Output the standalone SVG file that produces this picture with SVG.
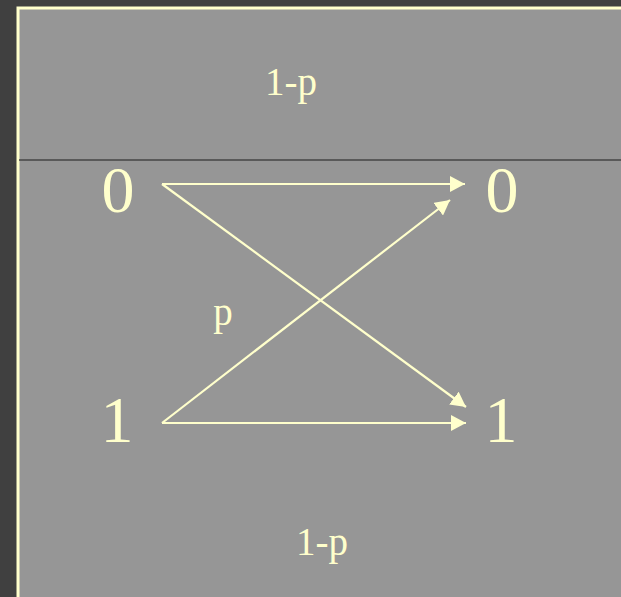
<svg xmlns="http://www.w3.org/2000/svg" width="621" height="597" viewBox="0 0 621 597">
<style>
.big{font-family:"Liberation Serif",serif;font-size:66px;fill:#FFFFCC;text-anchor:middle}
.lbl{font-family:"Liberation Serif",serif;font-size:39px;fill:#FFFFCC;text-anchor:middle}
.edge{stroke:#FFFFCC;stroke-width:2.2;fill:none}
</style>
<defs>
<marker id="ah" markerWidth="16" markerHeight="16" refX="15" refY="8" orient="auto" markerUnits="userSpaceOnUse">
<path d="M0,0 L15,8 L0,16 Z" fill="#FFFFCC"/>
</marker>
</defs>
<rect x="0" y="0" width="621" height="597" fill="#404040"/>
<rect x="17" y="7" width="604" height="590" fill="#969696"/>
<path d="M18,597 V8 H621" stroke="#FFFFCC" stroke-width="3" fill="none"/>
<line x1="19" y1="160" x2="621" y2="160" stroke="#444444" stroke-width="1.5"/>
<g id="n0l"><text class="big" x="118" y="212">0</text></g>
<g id="n0r"><text class="big" x="502" y="212">0</text></g>
<g id="n1l"><text class="big" x="117" y="442">1</text></g>
<g id="n1r"><text class="big" x="501" y="442">1</text></g>
<g id="labels">
<text class="lbl" x="291" y="95">1-p</text>
<text class="lbl" x="223" y="325">p</text>
<text class="lbl" x="322" y="555">1-p</text>
</g>
<g id="edges">
<line class="edge" x1="162" y1="184" x2="465" y2="184" marker-end="url(#ah)"/>
<line class="edge" x1="162" y1="184" x2="466" y2="407" marker-end="url(#ah)"/>
<line class="edge" x1="162" y1="423" x2="450" y2="200" marker-end="url(#ah)"/>
<line class="edge" x1="162" y1="423" x2="466" y2="423" marker-end="url(#ah)"/>
</g>
</svg>
